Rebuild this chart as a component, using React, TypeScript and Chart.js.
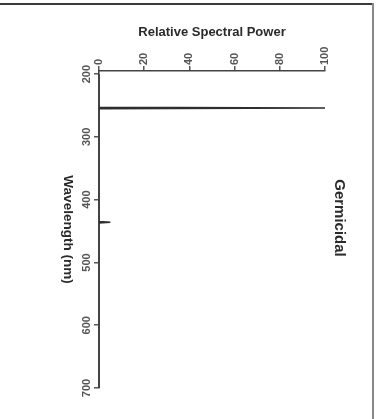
import React, { useEffect, useRef } from "react";
import { Chart, registerables } from "chart.js";

Chart.register(...registerables);

// ---- data ----
const wavelengths = [200, 253, 254, 255, 435, 436, 437, 700];
const relativePower = [0, 0, 100, 0, 0, 5, 0, 0];
const powerTicks = [0, 20, 40, 60, 80, 100];
const wavelengthTicks = [200, 300, 400, 500, 600, 700];
const powerTitle = "Relative Spectral Power";
const wavelengthTitle = "Wavelength (nm)";
const lampName = "Germicidal";

const FONT = "'Liberation Sans', Arial, Helvetica, sans-serif";

const decorPlugin = {
  id: "decor",
  beforeDraw(chart: any) {
    const ctx = chart.ctx;
    ctx.save();
    ctx.fillStyle = "#ffffff";
    ctx.fillRect(0, 0, chart.width, chart.height);
    ctx.restore();
  },
  afterDraw(chart: any) {
    const ctx = chart.ctx;
    const xs = chart.scales.x;
    const ys = chart.scales.y;
    const area = chart.chartArea;
    ctx.save();
    // frame lines
    ctx.strokeStyle = "#3a3a3a";
    ctx.lineWidth = 2;
    ctx.beginPath();
    ctx.moveTo(0, 4);
    ctx.lineTo(374, 4);
    ctx.stroke();
    ctx.strokeStyle = "#888888";
    ctx.beginPath();
    ctx.moveTo(373, 3);
    ctx.lineTo(373, chart.height);
    ctx.stroke();

    // tick labels
    ctx.fillStyle = "#555";
    ctx.font = `bold 11px ${FONT}`;
    powerTicks.forEach((v) => {
      const px = xs.getPixelForValue(v);
      ctx.save();
      ctx.translate(px, area.top - 6);
      ctx.rotate(-Math.PI / 2);
      ctx.textAlign = "left";
      ctx.textBaseline = "middle";
      ctx.fillText(String(v), 0, 0);
      ctx.restore();
    });
    wavelengthTicks.forEach((v) => {
      const py = ys.getPixelForValue(v);
      ctx.save();
      ctx.translate(area.left - 12, py);
      ctx.rotate(-Math.PI / 2);
      ctx.textAlign = "center";
      ctx.textBaseline = "middle";
      ctx.fillText(String(v), 0, 0);
      ctx.restore();
    });

    // titles
    ctx.fillStyle = "#2a2a2a";
    ctx.font = `bold 13px ${FONT}`;
    ctx.textAlign = "center";
    ctx.textBaseline = "middle";
    ctx.fillText(powerTitle, (area.left + area.right) / 2, 32);

    ctx.save();
    ctx.font = `bold 13.5px ${FONT}`;
    ctx.translate(68, (area.top + area.bottom) / 2);
    ctx.rotate(Math.PI / 2);
    ctx.fillText(wavelengthTitle, 0, 0);
    ctx.restore();

    ctx.save();
    ctx.font = `bold 15px ${FONT}`;
    ctx.translate(339, 218);
    ctx.rotate(Math.PI / 2);
    ctx.fillText(lampName, 0, 0);
    ctx.restore();

    ctx.restore();
  },
};

export default function App() {
  const ref = useRef<HTMLCanvasElement | null>(null);
  useEffect(() => {
    if (!ref.current) return;
    const points = wavelengths.map((w, i) => ({ x: relativePower[i], y: w }));
    const chart = new Chart(ref.current, {
      type: "scatter",
      data: {
        datasets: [
          {
            data: points,
            showLine: true,
            pointRadius: 0,
            borderColor: "#2e2e2e",
            borderWidth: 1.6,
            tension: 0,
          },
        ],
      },
      options: {
        animation: false,
        responsive: false,
        devicePixelRatio: 1,
        layout: { padding: { top: 0, left: 0, right: 55, bottom: 31 } },
        plugins: { legend: { display: false }, tooltip: { enabled: false } },
        scales: {
          x: {
            type: "linear",
            position: "top",
            min: 0,
            max: 100,
            afterBuildTicks: (s: any) => {
              s.ticks = powerTicks.map((v) => ({ value: v }));
            },
            afterFit: (s: any) => {
              s.height = 71;
            },
            ticks: { display: false },
            grid: {
              display: true,
              drawOnChartArea: false,
              drawTicks: true,
              tickLength: 5,
              color: "#555",
              lineWidth: 1.5,
            },
            border: { display: true, color: "#444", width: 1.6 },
          },
          y: {
            type: "linear",
            reverse: true,
            min: 195,
            max: 700,
            afterBuildTicks: (s: any) => {
              s.ticks = wavelengthTicks.map((v) => ({ value: v }));
            },
            afterFit: (s: any) => {
              s.width = 99;
            },
            ticks: { display: false },
            grid: {
              display: true,
              drawOnChartArea: false,
              drawTicks: true,
              tickLength: 5,
              color: "#555",
              lineWidth: 1.5,
            },
            border: { display: true, color: "#444", width: 1.6 },
          },
        },
      },
      plugins: [decorPlugin],
    });
    return () => chart.destroy();
  }, []);
  return (
    <div style={{ position: "fixed", left: 0, top: 0, width: 380, height: 419, background: "#fff" }}>
      <canvas ref={ref} width={380} height={419} style={{ width: 380, height: 419, display: "block" }} />
    </div>
  );
}
